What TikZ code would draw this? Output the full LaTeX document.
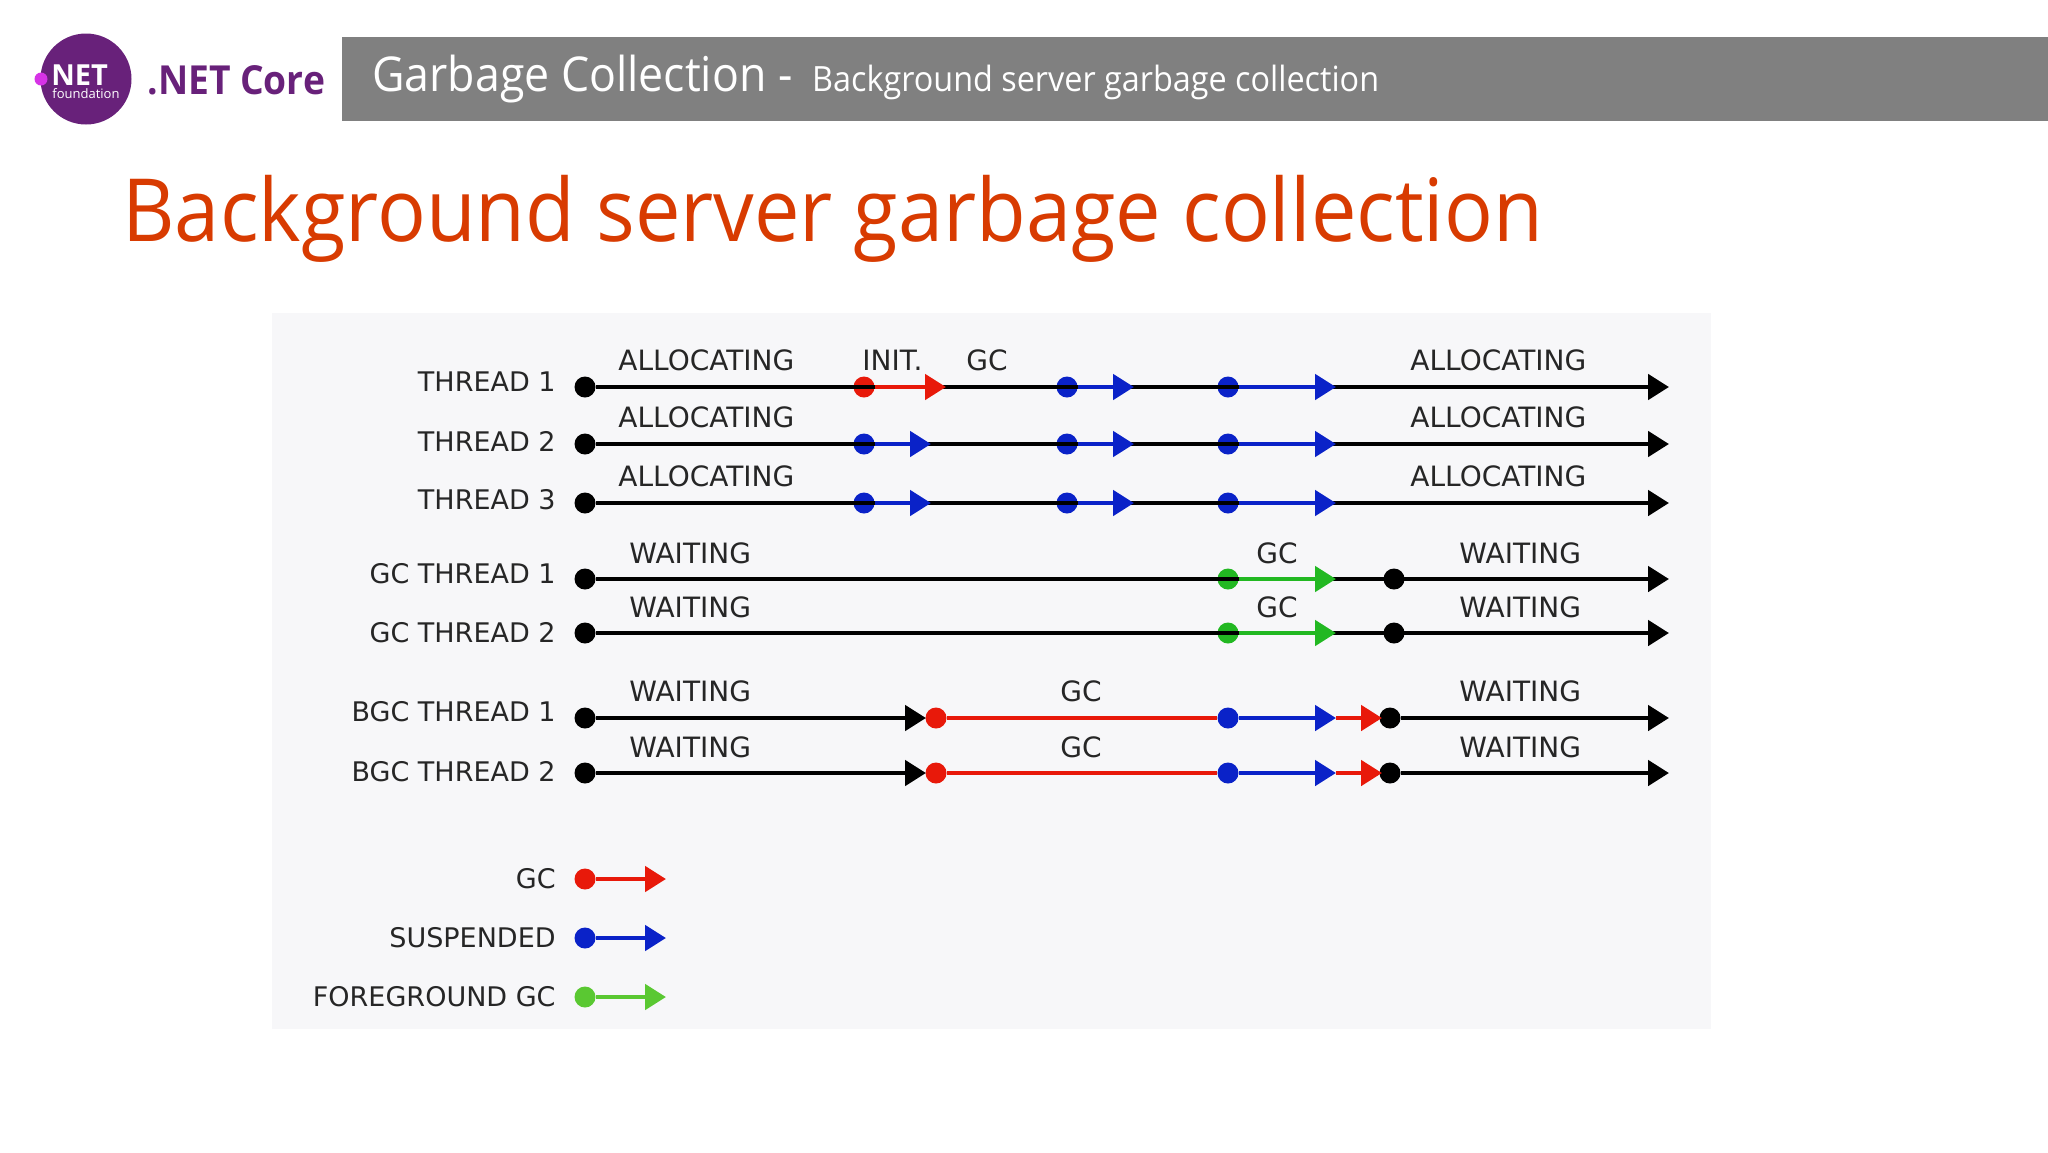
\documentclass[tikz,border=0pt]{standalone}
\usepackage{fontspec}
\usepackage{xcolor}
\usetikzlibrary{shapes.geometric, arrows.meta, positioning}
\setmainfont{Open Sans}
\newfontfamily\slidefont[FakeStretch=0.93]{Open Sans}
\newfontfamily\chartfont{DejaVu Sans}
\definecolor{gcred}{HTML}{E8190A}
\definecolor{gcblue}{HTML}{0A22C8}
\definecolor{gcgreen}{HTML}{22B822}
\definecolor{fggreen}{HTML}{5AC832}
\definecolor{netpurple}{HTML}{68217A}
\definecolor{netpink}{HTML}{D633E6}
\definecolor{titlered}{HTML}{D83B01}
\definecolor{panelgray}{HTML}{F7F7F9}
\tikzstyle{arrow} = [line width=2.4pt,-{Triangle[length=10.5pt,width=12.5pt]}]
\tikzstyle{tdot} = [circle, inner sep=0pt, minimum size=10.5pt, fill=black]
\tikzstyle{rowlabel} = [anchor=east, inner sep=0pt, text=black!85, font=\chartfont\fontsize{13.5}{15}\selectfont]
\tikzstyle{toplabel} = [anchor=west, inner sep=0pt, text=black!85, font=\chartfont\fontsize{14}{15}\selectfont]

\begin{document}
\begin{tikzpicture}[x=1pt, y=-1pt, node distance=0pt]
\useasboundingbox (0,0) rectangle (1024,576);

% Slide header
\node (logo) [circle, inner sep=0pt, minimum size=45.5pt, fill=netpurple] at (43,39.5) {};
\node (logodot) [circle, inner sep=0pt, minimum size=6.5pt, fill=netpink] at (20.5,39.5) {};
\node (lognet) [anchor=west, inner sep=0pt, text=white, font=\bfseries\fontsize{14.5}{16}\selectfont] at (25.5,37.5) {NET};
\node (logfound) [anchor=west, inner sep=0pt, text=white, font=\fontsize{6.5}{7}\selectfont] at (26,47) {foundation};
\node (netcore) [anchor=west, inner sep=0pt, text=netpurple, font=\slidefont\bfseries\fontsize{20}{21}\selectfont] at (73.5,40) {.NET Core};
\node (header) [rectangle, anchor=west, inner sep=0pt, minimum width=853pt, minimum height=42pt, fill=black!50] at (171,39.5) {};
\node (headertext) [anchor=west, inner sep=0pt, text=white, font=\slidefont\fontsize{24}{26}\selectfont] at (186,39.5) {Garbage Collection - \hspace{4pt}{\fontsize{17.4}{20}\selectfont Background server garbage collection}};
\node (title) [anchor=west, inner sep=0pt, text=titlered, font=\slidefont\fontsize{43.6}{50}\selectfont] at (61,109.5) {Background server garbage collection};

% Chart panel
\node (panel) [rectangle, anchor=north west, inner sep=0pt, minimum width=719.5pt, minimum height=358pt, fill=panelgray] at (136,156.5) {};

% Row starts
\node (t1start) [tdot] at (292.5,193.5) {};
\node (t2start) [tdot, below of=t1start, yshift=-28.5pt] {};
\node (t3start) [tdot, below of=t2start, yshift=-29.5pt] {};
\node (g1start) [tdot, below of=t3start, yshift=-38pt] {};
\node (g2start) [tdot, below of=g1start, yshift=-27pt] {};
\node (b1start) [tdot, below of=g2start, yshift=-42.5pt] {};
\node (b2start) [tdot, below of=b1start, yshift=-27.5pt] {};

% Row labels
\node (t1name) [left of=t1start, rowlabel, xshift=-14.5pt, yshift=2.5pt] {THREAD 1};
\node (t2name) [left of=t2start, rowlabel, xshift=-14.5pt, yshift=1.5pt] {THREAD 2};
\node (t3name) [left of=t3start, rowlabel, xshift=-14.5pt, yshift=1.5pt] {THREAD 3};
\node (g1name) [left of=g1start, rowlabel, xshift=-14.5pt, yshift=2.5pt] {GC THREAD 1};
\node (g2name) [left of=g2start, rowlabel, xshift=-14.5pt] {GC THREAD 2};
\node (b1name) [left of=b1start, rowlabel, xshift=-14.5pt, yshift=3pt] {BGC THREAD 1};
\node (b2name) [left of=b2start, rowlabel, xshift=-14.5pt, yshift=0.5pt] {BGC THREAD 2};

% Row ends
\coordinate [right of=t1start, xshift=542pt] (t1end);
\coordinate [right of=t2start, xshift=542pt] (t2end);
\coordinate [right of=t3start, xshift=542pt] (t3end);
\coordinate [right of=g1start, xshift=542pt] (g1end);
\coordinate [right of=g2start, xshift=542pt] (g2end);
\coordinate [right of=b1start, xshift=542pt] (b1end);
\coordinate [right of=b2start, xshift=542pt] (b2end);

% Thread 1
\node (t1init) [tdot, fill=gcred, right of=t1start, xshift=139.5pt] {};
\node (t1susa) [tdot, fill=gcblue, right of=t1start, xshift=241pt] {};
\node (t1susb) [tdot, fill=gcblue, right of=t1start, xshift=321.5pt] {};
\coordinate [right of=t1init, xshift=41pt] (t1initend);
\coordinate [right of=t1susa, xshift=33.5pt] (t1susaend);
\coordinate [right of=t1susb, xshift=54pt] (t1susbend);
\draw [arrow] (t1start) -- (t1end);
\draw [arrow, gcred] (t1init) -- (t1initend);
\draw [arrow, gcblue] (t1susa) -- (t1susaend);
\draw [arrow, gcblue] (t1susb) -- (t1susbend);

% Thread 2
\node (t2init) [tdot, fill=gcblue, right of=t2start, xshift=139.5pt] {};
\node (t2susa) [tdot, fill=gcblue, right of=t2start, xshift=241pt] {};
\node (t2susb) [tdot, fill=gcblue, right of=t2start, xshift=321.5pt] {};
\coordinate [right of=t2init, xshift=33.5pt] (t2initend);
\coordinate [right of=t2susa, xshift=33.5pt] (t2susaend);
\coordinate [right of=t2susb, xshift=54pt] (t2susbend);
\draw [arrow] (t2start) -- (t2end);
\draw [arrow, gcblue] (t2init) -- (t2initend);
\draw [arrow, gcblue] (t2susa) -- (t2susaend);
\draw [arrow, gcblue] (t2susb) -- (t2susbend);

% Thread 3
\node (t3init) [tdot, fill=gcblue, right of=t3start, xshift=139.5pt] {};
\node (t3susa) [tdot, fill=gcblue, right of=t3start, xshift=241pt] {};
\node (t3susb) [tdot, fill=gcblue, right of=t3start, xshift=321.5pt] {};
\coordinate [right of=t3init, xshift=33.5pt] (t3initend);
\coordinate [right of=t3susa, xshift=33.5pt] (t3susaend);
\coordinate [right of=t3susb, xshift=54pt] (t3susbend);
\draw [arrow] (t3start) -- (t3end);
\draw [arrow, gcblue] (t3init) -- (t3initend);
\draw [arrow, gcblue] (t3susa) -- (t3susaend);
\draw [arrow, gcblue] (t3susb) -- (t3susbend);

% GC threads
\node (g1fg) [tdot, fill=gcgreen, right of=g1start, xshift=321.5pt] {};
\node (g1stop) [tdot, right of=g1start, xshift=404.5pt] {};
\coordinate [right of=g1fg, xshift=54pt] (g1fgend);
\draw [arrow] (g1start) -- (g1end);
\draw [arrow, gcgreen] (g1fg) -- (g1fgend);
\node (g2fg) [tdot, fill=gcgreen, right of=g2start, xshift=321.5pt] {};
\node (g2stop) [tdot, right of=g2start, xshift=404.5pt] {};
\coordinate [right of=g2fg, xshift=54pt] (g2fgend);
\draw [arrow] (g2start) -- (g2end);
\draw [arrow, gcgreen] (g2fg) -- (g2fgend);

% BGC threads
\coordinate [right of=b1start, xshift=170.5pt] (b1wait);
\node (b1gc) [tdot, fill=gcred, right of=b1start, xshift=175.5pt] {};
\node (b1sus) [tdot, fill=gcblue, right of=b1start, xshift=321.5pt] {};
\node (b1stop) [tdot, right of=b1start, xshift=402.5pt] {};
\coordinate [right of=b1sus, xshift=54pt] (b1susend);
\coordinate [right of=b1sus, xshift=77pt] (b1gcend);
\draw [arrow] (b1start) -- (b1wait);
\draw [line width=2.4pt, gcred] (b1gc) -- (b1sus);
\draw [arrow, gcred] (b1susend) -- (b1gcend);
\draw [arrow, gcblue] (b1sus) -- (b1susend);
\draw [arrow] (b1stop) -- (b1end);
\coordinate [right of=b2start, xshift=170.5pt] (b2wait);
\node (b2gc) [tdot, fill=gcred, right of=b2start, xshift=175.5pt] {};
\node (b2sus) [tdot, fill=gcblue, right of=b2start, xshift=321.5pt] {};
\node (b2stop) [tdot, right of=b2start, xshift=402.5pt] {};
\coordinate [right of=b2sus, xshift=54pt] (b2susend);
\coordinate [right of=b2sus, xshift=77pt] (b2gcend);
\draw [arrow] (b2start) -- (b2wait);
\draw [line width=2.4pt, gcred] (b2gc) -- (b2sus);
\draw [arrow, gcred] (b2susend) -- (b2gcend);
\draw [arrow, gcblue] (b2sus) -- (b2susend);
\draw [arrow] (b2stop) -- (b2end);

% Labels over the lines
\node (t1alloc) [right of=t1start, toplabel, xshift=16.5pt, yshift=13.5pt] {ALLOCATING};
\node (t1initl) [right of=t1start, toplabel, xshift=138.5pt, yshift=13.5pt] {INIT.};
\node (t1gcl) [right of=t1start, toplabel, xshift=190.5pt, yshift=13.5pt] {GC};
\node (t1allocb) [right of=t1start, toplabel, xshift=412.5pt, yshift=13.5pt] {ALLOCATING};
\node (t2alloc) [right of=t2start, toplabel, xshift=16.5pt, yshift=13.5pt] {ALLOCATING};
\node (t2allocb) [right of=t2start, toplabel, xshift=412.5pt, yshift=13.5pt] {ALLOCATING};
\node (t3alloc) [right of=t3start, toplabel, xshift=16.5pt, yshift=13.5pt] {ALLOCATING};
\node (t3allocb) [right of=t3start, toplabel, xshift=412.5pt, yshift=13.5pt] {ALLOCATING};
\node (g1wait) [right of=g1start, toplabel, xshift=22pt, yshift=13pt] {WAITING};
\node (g1gcl) [right of=g1start, toplabel, xshift=335.5pt, yshift=13pt] {GC};
\node (g1waitb) [right of=g1start, toplabel, xshift=437pt, yshift=13pt] {WAITING};
\node (g2wait) [right of=g2start, toplabel, xshift=22pt, yshift=13pt] {WAITING};
\node (g2gcl) [right of=g2start, toplabel, xshift=335.5pt, yshift=13pt] {GC};
\node (g2waitb) [right of=g2start, toplabel, xshift=437pt, yshift=13pt] {WAITING};
\node (b1waitl) [right of=b1start, toplabel, xshift=22pt, yshift=13.5pt] {WAITING};
\node (b1gcl) [right of=b1start, toplabel, xshift=237.5pt, yshift=13.5pt] {GC};
\node (b1waitb) [right of=b1start, toplabel, xshift=437pt, yshift=13.5pt] {WAITING};
\node (b2waitl) [right of=b2start, toplabel, xshift=22pt, yshift=13pt] {WAITING};
\node (b2gcl) [right of=b2start, toplabel, xshift=237.5pt, yshift=13pt] {GC};
\node (b2waitb) [right of=b2start, toplabel, xshift=437pt, yshift=13pt] {WAITING};

% Legend
\node (keygc) [tdot, fill=gcred, below of=b2start, yshift=-53pt] {};
\node (keysus) [tdot, fill=gcblue, below of=keygc, yshift=-29.5pt] {};
\node (keyfg) [tdot, fill=fggreen, below of=keysus, yshift=-29.5pt] {};
\node (keygcname) [left of=keygc, rowlabel, xshift=-14.5pt] {GC};
\node (keysusname) [left of=keysus, rowlabel, xshift=-14.5pt] {SUSPENDED};
\node (keyfgname) [left of=keyfg, rowlabel, xshift=-14.5pt] {FOREGROUND GC};
\coordinate [right of=keygc, xshift=40.5pt] (keygcend);
\coordinate [right of=keysus, xshift=40.5pt] (keysusend);
\coordinate [right of=keyfg, xshift=40.5pt] (keyfgend);
\draw [arrow, gcred] (keygc) -- (keygcend);
\draw [arrow, gcblue] (keysus) -- (keysusend);
\draw [arrow, fggreen] (keyfg) -- (keyfgend);

\end{tikzpicture}
\end{document}
